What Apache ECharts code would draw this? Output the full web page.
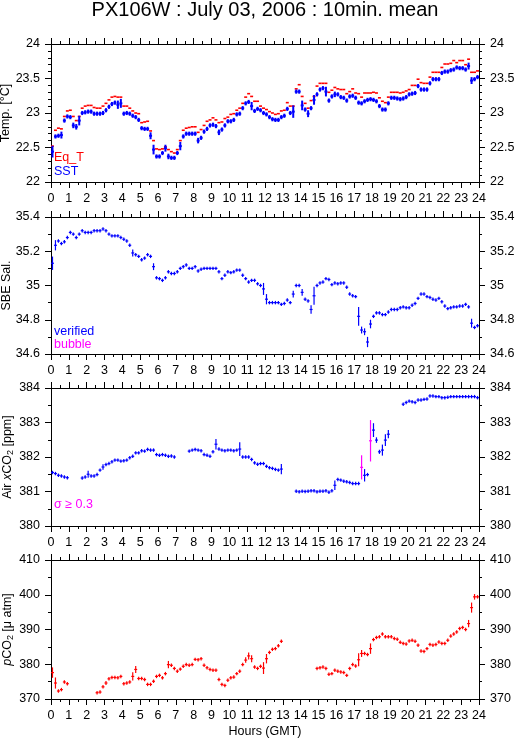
<!DOCTYPE html>
<html><head><meta charset="utf-8">
<script src="https://cdn.jsdelivr.net/npm/echarts@6/dist/echarts.min.js"></script>
<style>html,body{margin:0;padding:0;background:#fff}#c{width:515px;height:739px}</style>
</head><body><div id="c"></div><script>
// ---- data: 10-minute means, index i -> hours i/6 ----
const hourTicks = [0,1,2,3,4,5,6,7,8,9,10,11,12,13,14,15,16,17,18,19,20,21,22,23,24];

const sst = [
22.44,22.66,22.67,22.68,22.89,22.95,22.94,22.82,22.80,22.89,
23.00,23.01,23.02,23.02,22.99,22.99,22.99,23.00,23.04,23.09,
23.13,23.15,23.12,23.14,22.99,23.00,22.99,22.96,22.94,22.90,
22.78,22.77,22.77,22.67,22.47,22.37,22.37,22.42,22.49,22.37,
22.35,22.35,22.42,22.52,22.66,22.70,22.70,22.70,22.70,22.60,
22.64,22.73,22.77,22.82,22.83,22.81,22.72,22.76,22.82,22.88,
22.88,22.90,22.98,22.99,23.07,23.14,23.16,23.10,23.03,23.06,
23.04,23.00,22.98,22.94,22.91,22.90,22.90,22.94,22.96,23.06,
23.00,23.02,23.31,23.31,23.11,23.05,22.99,23.07,23.19,23.27,
23.34,23.36,23.31,23.18,23.24,23.27,23.27,23.23,23.22,23.18,
23.24,23.25,23.22,23.15,23.14,23.17,23.19,23.20,23.19,23.17,
23.10,23.05,23.05,23.14,23.22,23.22,23.21,23.20,23.21,23.23,
23.27,23.28,23.29,23.39,23.34,23.34,23.34,23.43,23.49,23.49,
23.49,23.58,23.60,23.60,23.62,23.63,23.66,23.65,23.65,23.63,
23.68,23.47,23.49,23.52];
const sstErrDefault = 0.03;
const sstErrBig = [[0,0.085],[3,0.05],[7,0.04],[8,0.04],[9,0.07],[22,0.06],[23,0.065],[33,0.05],[34,0.07],[38,0.05],[39,0.04],[43,0.06],[49,0.04],[56,0.04],[67,0.06],[81,0.09],[84,0.07],[86,0.05],[88,0.07],[92,0.07],[95,0.04],[140,0.05],[141,0.05]];

const eqT = [
22.52,22.75,22.78,22.77,22.95,23.03,23.04,22.95,22.89,22.95,
23.07,23.10,23.11,23.11,23.08,23.07,23.07,23.10,23.14,23.19,
23.23,23.24,23.23,23.23,23.10,23.10,23.07,23.03,23.00,22.99,
22.86,22.87,22.88,22.74,22.60,22.48,22.47,22.48,22.51,22.47,
22.44,22.42,22.47,22.60,22.75,22.78,22.79,22.80,22.80,22.72,
22.76,22.82,22.88,22.90,22.93,22.90,22.86,22.87,22.92,22.94,
22.98,22.99,23.04,23.07,23.14,23.23,23.28,23.24,23.17,23.17,
23.10,23.07,23.05,23.02,23.00,22.98,22.99,23.03,23.04,23.15,
23.10,23.10,23.35,23.41,23.24,23.14,23.07,23.18,23.24,23.39,
23.43,23.43,23.43,23.30,23.33,23.37,23.35,23.34,23.34,23.28,
23.31,23.35,23.29,23.28,23.23,23.29,23.29,23.29,23.30,23.29,
23.22,23.17,23.15,23.23,23.30,23.30,23.30,23.29,23.30,23.32,
23.34,23.40,23.40,23.49,23.44,23.43,23.43,23.52,23.59,23.59,
23.59,23.66,23.71,23.71,23.72,23.76,23.73,23.76,23.76,23.70,
23.78,23.59,23.59,23.61];

const sal = [
35.13,35.235,35.26,35.245,35.255,35.28,35.31,35.30,35.28,35.30,
35.32,35.31,35.31,35.31,35.32,35.32,35.32,35.33,35.32,35.30,
35.29,35.29,35.29,35.28,35.27,35.26,35.235,35.19,35.18,35.17,
35.15,35.16,35.18,35.17,35.11,35.045,35.04,35.03,35.045,35.08,
35.07,35.07,35.08,35.10,35.11,35.12,35.10,35.10,35.11,35.085,
35.095,35.10,35.10,35.10,35.10,35.10,35.08,35.04,35.06,35.08,
35.075,35.08,35.09,35.09,35.06,35.04,35.02,35.03,35.03,35.01,
35.00,34.98,34.92,34.90,34.90,34.90,34.90,34.89,34.895,34.915,
34.90,34.95,35.00,35.00,34.96,34.92,34.91,34.86,34.94,35.00,
35.015,35.02,35.04,35.035,35.005,35.015,35.01,35.015,35.015,34.99,
34.95,34.94,34.935,34.82,34.74,34.73,34.67,34.775,34.82,34.84,
34.84,34.83,34.83,34.845,34.86,34.86,34.86,34.87,34.875,34.87,
34.87,34.885,34.895,34.925,34.95,34.95,34.935,34.93,34.92,34.915,
34.925,34.905,34.88,34.865,34.87,34.875,34.875,34.88,34.88,34.89,
34.875,34.78,34.755,34.765];
const salErrDefault = 0.01;
const salErrBig = [[0,0.039],[1,0.03],[27,0.02],[34,0.02],[71,0.035],[72,0.03],[81,0.02],[84,0.02],[87,0.025],[88,0.053],[103,0.055],[104,0.02],[105,0.02],[106,0.03],[107,0.025],[141,0.026]];

const airCO2 = [
381.55,381.52,381.47,381.45,381.42,381.40,null,null,null,null,
381.39,381.42,381.50,381.45,381.45,381.49,381.62,381.71,381.78,381.81,
381.86,381.91,381.91,381.88,381.89,381.91,381.98,382.02,382.12,382.12,
382.18,382.17,382.22,382.20,382.20,382.07,382.05,382.07,382.05,382.02,
382.03,382.00,null,null,null,null,382.17,382.20,382.22,382.20,
382.18,382.07,382.05,382.02,382.15,382.37,382.23,382.20,382.18,382.20,
382.20,382.18,382.20,382.23,382.00,382.00,382.00,381.93,381.83,381.79,
381.81,381.81,381.73,381.69,381.67,381.64,381.62,381.65,null,null,
null,null,381.01,380.99,381.01,381.00,381.01,381.02,381.02,380.99,
381.01,381.01,381.02,380.98,381.02,381.18,381.35,381.33,381.30,381.28,
381.26,381.23,381.23,381.23,381.70,381.47,381.49,382.47,382.78,382.49,
382.15,382.20,382.49,382.66,null,null,null,null,383.53,383.58,
383.62,383.60,383.58,383.65,383.65,383.67,383.68,383.77,383.77,383.75,
383.75,383.72,383.72,383.73,383.75,383.75,383.75,383.75,383.75,383.75,
383.75,383.75,383.75,383.72];
const airErrDefault = 0.05;
const airErrBig = [[12,0.1],[17,0.08],[55,0.15],[63,0.2],[77,0.15],[95,0.14],[104,0.35],[105,0.18],[107,0.6],[108,0.2],[109,0.08],[110,0.06],[111,0.16],[112,0.17],[113,0.12]];
const sigmaLimit = 0.3;

const pCO2 = [
377.6,374.6,372.3,372.7,374.9,374.4,null,null,null,null,
null,null,null,null,null,371.8,372.0,373.5,374.6,375.8,
376.2,376.2,376.1,376.5,374.4,374.6,374.9,376.5,378.5,375.9,
375.9,375.6,374.2,374.2,375.1,376.5,376.8,376.1,377.3,379.9,
379.7,378.8,378.0,378.6,379.4,379.9,379.7,379.9,381.4,381.3,
381.6,379.7,379.0,378.5,378.3,378.3,375.6,374.2,373.9,375.4,
376.1,376.3,377.3,378.0,379.9,381.2,382.4,381.6,379.2,378.8,
379.4,378.9,381.6,383.4,384.3,384.5,385.3,386.6,null,null,
null,null,null,null,null,null,null,null,null,378.8,
379.0,379.2,378.8,377.1,377.3,378.3,378.0,377.8,377.6,376.8,
378.8,379.9,379.5,381.3,383.1,383.1,382.8,384.5,387.1,387.7,
387.9,388.7,387.9,387.9,387.9,387.4,387.2,386.3,386.0,385.8,
386.7,386.9,386.6,385.5,383.8,383.7,384.5,385.7,385.5,385.7,
386.4,386.0,386.0,386.9,388.1,388.7,389.3,390.3,390.6,390.0,
391.7,396.3,399.4,399.4];
const pco2ErrDefault = 0.5;
const pco2ErrBig = [[0,1.5],[1,1.6],[18,0.6],[27,1.2],[28,1.0],[39,1.05],[65,0.8],[66,1.0],[67,1.0],[71,1.7],[72,1.35],[103,1.9],[104,1.0],[107,1.5],[140,1.05],[141,1.45],[142,0.8]];

// ---- styling / layout ----
const FONT = '"Liberation Sans", Arial, Helvetica, sans-serif';
const FS = 12.5;
const BLUE = '#0000ff', RED = '#ff0000', MAG = '#ff00ff';
const grids = [
  {left:51, right:36, top:44, height:138, outerBoundsMode:'none', containLabel:false},
  {left:51, right:36, top:217, height:137, outerBoundsMode:'none', containLabel:false},
  {left:51, right:36, top:388, height:138, outerBoundsMode:'none', containLabel:false},
  {left:51, right:36, top:560, height:139, outerBoundsMode:'none', containLabel:false}
];

function errArray(n, def, big){
  const e = new Array(n).fill(def);
  big.forEach(([i,v]) => { e[i] = v; });
  return e;
}

function xAx(g, pos, showLabel, extra){
  return Object.assign({
    type:'value', gridIndex:g, position:pos, min:0, max:24, interval:1,
    axisLine:{show:true, onZero:false, lineStyle:{color:'#000', width:1}},
    axisTick:{show:true, length:6, lineStyle:{color:'#000', width:1}},
    minorTick:{show:true, splitNumber:2, length:3, lineStyle:{color:'#000', width:1}},
    splitLine:{show:false}, minorSplitLine:{show:false},
    axisLabel:{show:showLabel, margin:10, color:'#000', fontSize:FS, fontFamily:FONT,
      formatter: v => String(hourTicks[Math.round(v)])}
  }, extra || {});
}
function yAx(g, pos, min, max, interval, minorSplit, name, nameGap, rich){
  const ax = {
    type:'value', gridIndex:g, position:pos, min, max, interval,
    axisLine:{show:true, onZero:false, lineStyle:{color:'#000', width:1}},
    axisTick:{show:true, length:6, lineStyle:{color:'#000', width:1}},
    minorTick:{show:true, splitNumber:minorSplit, length:3, lineStyle:{color:'#000', width:1}},
    splitLine:{show:false}, minorSplitLine:{show:false},
    axisLabel:{show:true, margin:11, color:'#000', fontSize:FS, fontFamily:FONT,
      formatter: v => String(+v.toFixed(2))}
  };
  if (name){
    ax.name = name; ax.nameLocation = 'middle'; ax.nameRotate = 90; ax.nameGap = nameGap;
    ax.nameMoveOverlap = false;
    ax.nameTextStyle = {color:'#000', fontSize:FS, fontFamily:FONT, rich: rich || {}};
  }
  return ax;
}

function crossSeries(g, vals, errs, color, lw, colorFn){
  const data = [];
  vals.forEach((v, i) => { if (v != null) data.push([i/6, v, errs ? errs[i] : 0]); });
  return {
    type:'custom', xAxisIndex:g*2, yAxisIndex:g*2, data,
    dimensions:['x','v','s'], encode:{x:0, y:1},
    clip:true, silent:true, animation:false,
    renderItem:(params, api) => {
      const x0 = api.value(0), v = api.value(1), s = api.value(2);
      const a = api.coord([x0, v]), b = api.coord([x0 + 1/6, v]);
      const col = colorFn ? colorFn(s) : color;
      const children = [{type:'line', shape:{x1:a[0], y1:a[1], x2:b[0], y2:b[1]},
        style:{stroke:col, lineWidth:lw}}];
      if (s > 0){
        const t = api.coord([x0 + 1/12, v + s]), u = api.coord([x0 + 1/12, v - s]);
        children.push({type:'line', shape:{x1:t[0], y1:t[1], x2:u[0], y2:u[1]},
          style:{stroke:col, lineWidth:lw}});
      }
      return {type:'group', children};
    }
  };
}

const xAxes = [], yAxes = [];
const subRich = {i:{fontStyle:'italic', fontSize:FS, fontFamily:FONT},
  s:{fontSize:9, fontFamily:FONT, verticalAlign:'bottom', padding:[6,0,0,0]}};
const yDefs = [
  {min:22, max:24, interval:0.5, minor:5, name:'Temp. [°C]', gap:39},
  {min:34.6, max:35.4, interval:0.2, minor:2, name:'SBE Sal.', gap:38},
  {min:380, max:384, interval:1, minor:2, name:'Air {i|x}CO{s|2} [ppm]', gap:36, rich:subRich},
  {min:370, max:410, interval:10, minor:2, name:'{i|p}CO{s|2} [μ atm]', gap:36, rich:subRich}
];
for (let g = 0; g < 4; g++){
  const extra = g === 3 ? {name:'Hours (GMT)', nameLocation:'middle', nameGap:26, nameMoveOverlap:false,
    nameTextStyle:{color:'#000', fontSize:FS, fontFamily:FONT}} : null;
  xAxes.push(xAx(g, 'bottom', true, extra));
  xAxes.push(xAx(g, 'top', false));
  const d = yDefs[g];
  yAxes.push(yAx(g, 'left', d.min, d.max, d.interval, d.minor, d.name, d.gap, d.rich));
  yAxes.push(yAx(g, 'right', d.min, d.max, d.interval, d.minor, null));
}

const series = [
  crossSeries(0, eqT, null, RED, 1.6),
  crossSeries(0, sst, errArray(sst.length, sstErrDefault, sstErrBig), BLUE, 2),
  crossSeries(1, sal, errArray(sal.length, salErrDefault, salErrBig), BLUE, 1.2),
  crossSeries(2, airCO2, errArray(airCO2.length, airErrDefault, airErrBig), BLUE, 1.2,
    s => s >= sigmaLimit ? MAG : BLUE),
  crossSeries(3, pCO2, errArray(pCO2.length, pco2ErrDefault, pco2ErrBig), RED, 1.2)
];

function label(x, y, text, color, size){
  return {type:'text', x, y, silent:true,
    style:{text, fill:color, font:`${size || FS}px ${FONT}`, textAlign:'left', textVerticalAlign:'middle'}};
}
const t = {type:'text', x:265, y:10, silent:true,
  style:{text:'PX106W : July 03, 2006 : 10min. mean', fill:'#000', font:`20px ${FONT}`,
    textAlign:'center', textVerticalAlign:'middle'}};

const chart = echarts.init(document.getElementById('c'), null, {renderer:'canvas'});
chart.setOption({
  backgroundColor:'#fff', animation:false,
  grid: grids,
  xAxis: xAxes, yAxis: yAxes, series,
  graphic: [t,
    label(54, 158, 'Eq_T', RED), label(54, 172, 'SST', BLUE),
    label(54, 332, 'verified', BLUE), label(54, 344.5, 'bubble', MAG),
    label(54, 505, 'σ ≥ 0.3', MAG)]
});
</script></body></html>
